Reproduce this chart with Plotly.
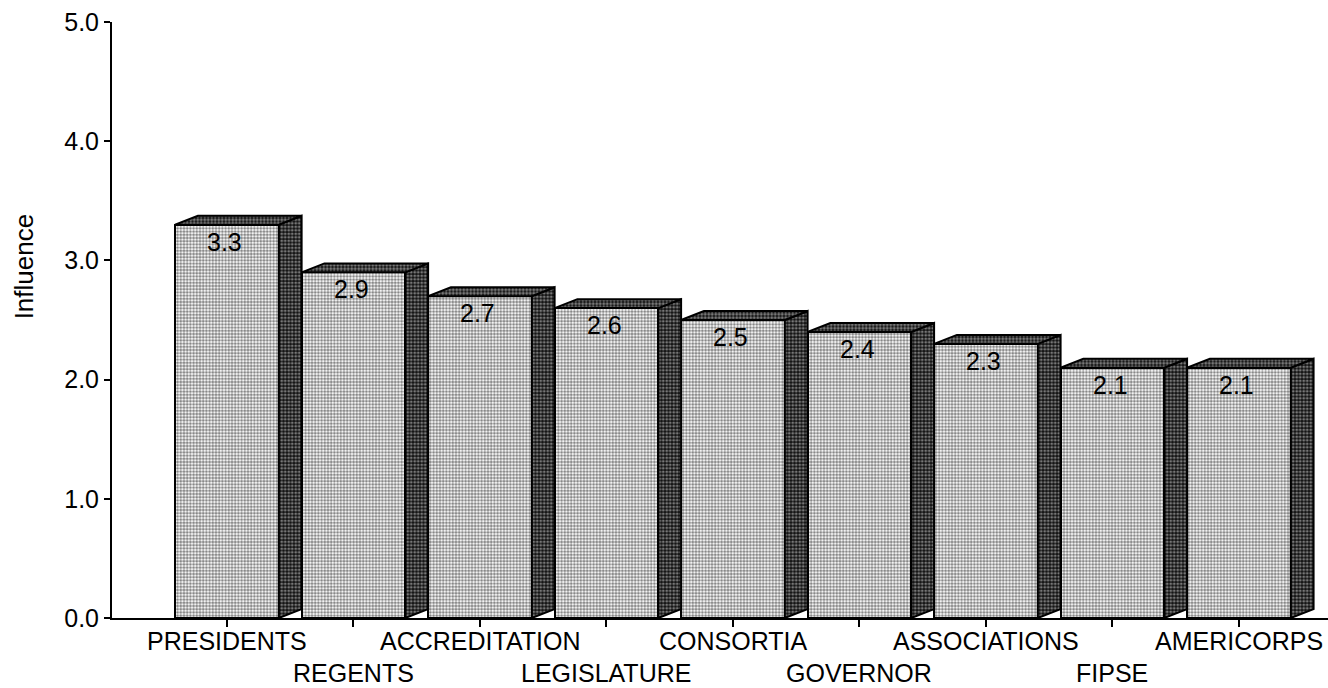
import plotly.graph_objects as go

# Influence ratings by source
categories = ["PRESIDENTS", "REGENTS", "ACCREDITATION", "LEGISLATURE", "CONSORTIA",
              "GOVERNOR", "ASSOCIATIONS", "FIPSE", "AMERICORPS"]
values = [3.3, 2.9, 2.7, 2.6, 2.5, 2.4, 2.3, 2.1, 2.1]
y_ticks = [0, 1, 2, 3, 4, 5]

FONT = "Liberation Sans, Arial, sans-serif"
BAR_W = 0.82      # front face width (category units)
DEPTH_X = 0.18    # 3D depth offset along x (category units)
DEPTH_Y = 0.075   # 3D depth offset along y (value units)

xs = list(range(len(categories)))

fig = go.Figure()

# front faces
fig.add_trace(go.Bar(
    x=xs, y=values, width=BAR_W,
    marker=dict(
        color="white",
        line=dict(color="black", width=2),
        pattern=dict(shape=".", fgcolor="#111111", bgcolor="white", size=3.2, solidity=0.62),
    ),
    hoverinfo="skip", showlegend=False,
))

# side and top faces
for x, v in zip(xs, values):
    x0 = x - BAR_W / 2
    x1 = x + BAR_W / 2
    side_x = [x1, x1, x1 + DEPTH_X, x1 + DEPTH_X, x1]
    side_y = [0, v, v + DEPTH_Y, DEPTH_Y, 0]
    fig.add_trace(go.Scatter(
        x=side_x, y=side_y, mode="lines", fill="toself",
        line=dict(color="black", width=2),
        fillcolor="black",
        fillpattern=dict(shape=".", fgcolor="#dddddd", bgcolor="#111111", size=3.5, solidity=0.5),
        hoverinfo="skip", showlegend=False,
    ))
    top_x = [x0, x0 + DEPTH_X, x1 + DEPTH_X, x1, x0]
    top_y = [v, v + DEPTH_Y, v + DEPTH_Y, v, v]
    fig.add_trace(go.Scatter(
        x=top_x, y=top_y, mode="lines", fill="toself",
        line=dict(color="black", width=2),
        fillcolor="black",
        fillpattern=dict(shape=".", fgcolor="#dddddd", bgcolor="#111111", size=3.5, solidity=0.55),
        hoverinfo="skip", showlegend=False,
    ))

annotations = []
# value labels inside the bars
for x, v in zip(xs, values):
    annotations.append(dict(
        x=x, y=v, xref="x", yref="y", text=f"{v:.1f}", showarrow=False,
        yanchor="middle", yshift=-17, xshift=-2,
        font=dict(family=FONT, size=25, color="black"),
    ))
# staggered category labels
for i, (x, name) in enumerate(zip(xs, categories)):
    annotations.append(dict(
        x=x, y=0, xref="x", yref="y", text=name, showarrow=False,
        yanchor="middle", yshift=-23 if i % 2 == 0 else -55,
        font=dict(family=FONT, size=25, color="black"),
    ))
# axis title
annotations.append(dict(
    x=0, y=0.59, xref="paper", yref="paper", text="Influence", showarrow=False,
    textangle=-90, xanchor="center", yanchor="middle", xshift=-88,
    font=dict(family=FONT, size=26, color="black"),
))

fig.update_layout(
    width=1328, height=688,
    margin=dict(l=112, r=0, t=22, b=70),
    paper_bgcolor="white", plot_bgcolor="white",
    bargap=0,
    annotations=annotations,
    xaxis=dict(
        range=[-0.909, 8.704], tickvals=xs, showticklabels=False,
        ticks="outside", ticklen=7, tickwidth=2, tickcolor="black",
        showline=True, linecolor="black", linewidth=2,
        showgrid=False, zeroline=False, fixedrange=True,
    ),
    yaxis=dict(
        range=[0, 5], tickvals=y_ticks, tickformat=".1f",
        ticks="outside", ticklen=6, tickwidth=2, tickcolor="black",
        showline=True, linecolor="black", linewidth=2,
        showgrid=False, zeroline=False, fixedrange=True,
        tickfont=dict(family=FONT, size=25, color="black"),
    ),
)

fig.write_html("out.html")
